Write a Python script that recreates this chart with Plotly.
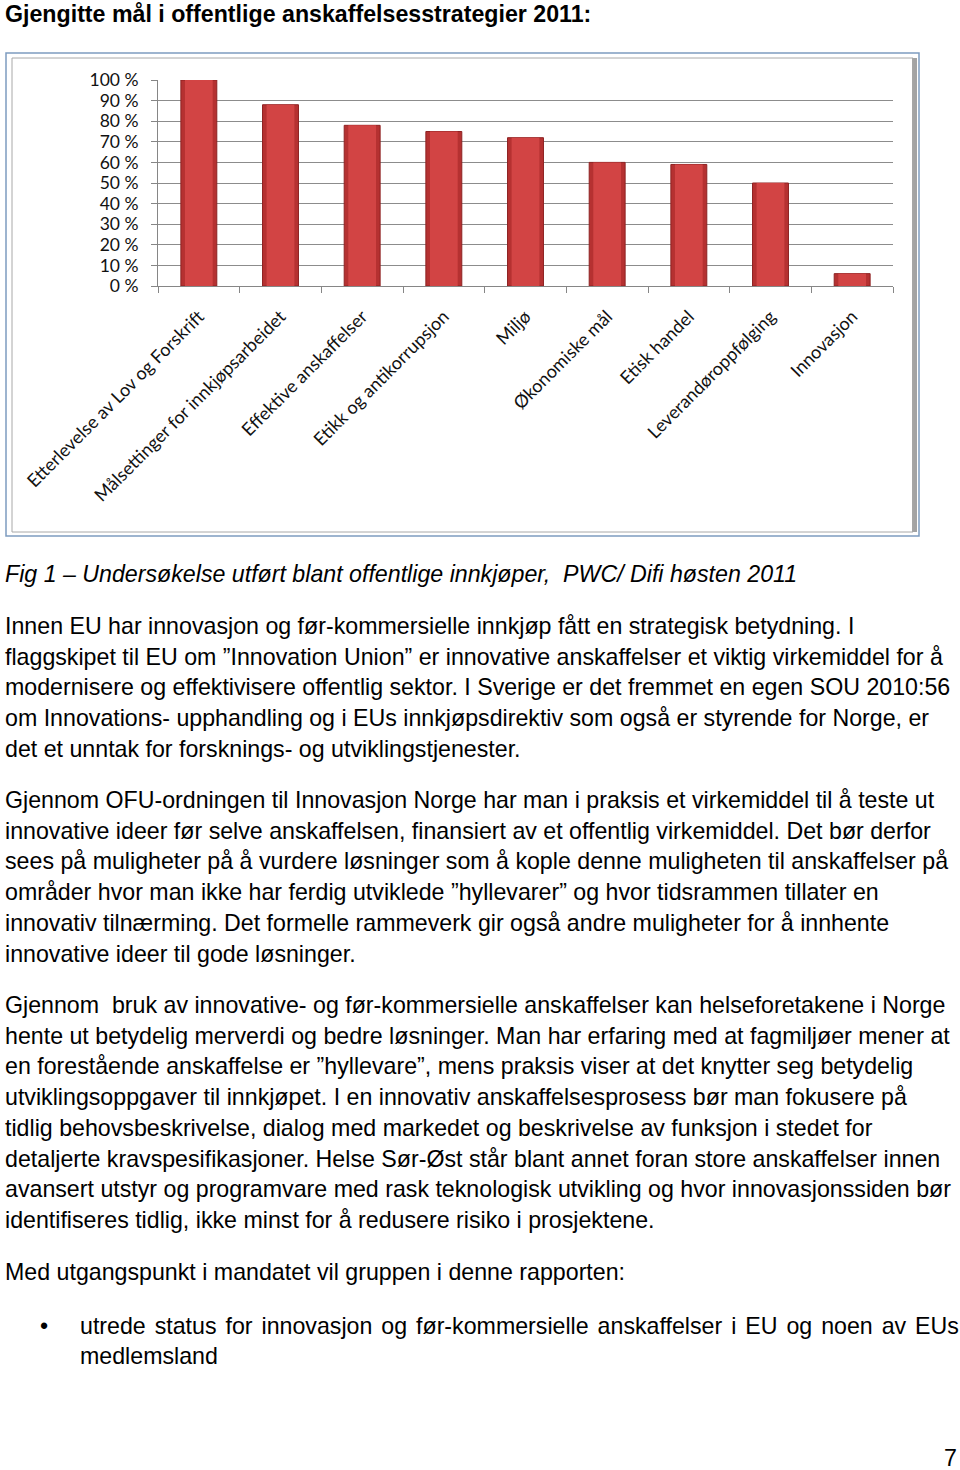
import plotly.graph_objects as go

# ---- data ----
categories = [
    "Etterlevelse av Lov og Forskrift",
    "Målsettinger for innkjøpsarbeidet",
    "Effektive anskaffelser",
    "Etikk og antikorrupsjon",
    "Miljø",
    "Økonomiske mål",
    "Etisk handel",
    "Leverandøroppfølging",
    "Innovasjon",
]
values = [100, 88, 78, 75, 72, 60, 59, 50, 6]
y_ticks = [0, 10, 20, 30, 40, 50, 60, 70, 80, 90, 100]
y_tick_labels = ["0 %", "10 %", "20 %", "30 %", "40 %", "50 %",
                 "60 %", "70 %", "80 %", "90 %", "100 %"]

W, H = 960, 1470

def py(p):
    return 1 - p / H

def px(p):
    return p / W

CHART_FONT = "Lato, Carlito, Calibri, sans-serif"

fig = go.Figure()
fig.add_trace(go.Bar(
    x=categories, y=values,
    marker=dict(color="#b53131", line=dict(color="#8e2222", width=1)),
    width=0.44, hoverinfo="x+y",
))
fig.add_trace(go.Bar(
    x=categories, y=values,
    marker=dict(color="#d24444", line=dict(width=0)),
    width=0.34, hoverinfo="skip",
))

fig.update_layout(
    width=W, height=H,
    margin=dict(l=0, r=0, t=0, b=0, autoexpand=False),
    paper_bgcolor="white", plot_bgcolor="white",
    showlegend=False,
    barmode="overlay",
    xaxis=dict(
        domain=[px(158), px(893)],
        anchor="y",
        type="category",
        automargin=False,
        tickangle=-45,
        tickfont=dict(family=CHART_FONT, size=18, color="#111111"),
        ticklabelstandoff=12,
        showline=True, linecolor="#868686", linewidth=1,
        ticks="outside", tickson="boundaries", ticklen=6, tickcolor="#868686",
        showgrid=False,
    ),
    yaxis=dict(
        domain=[py(286), py(80)],
        range=[0, 100],
        automargin=False,
        tickmode="array",
        tickvals=y_ticks,
        ticktext=y_tick_labels,
        tickfont=dict(family=CHART_FONT, size=17.5, color="#111111"),
        ticklabelstandoff=9,
        showline=True, linecolor="#868686", linewidth=1,
        ticks="outside", ticklen=6, tickcolor="#868686",
        showgrid=True, gridcolor="#8c8c8c", gridwidth=1,
        zeroline=False,
    ),
)

# chart frame
fig.add_shape(type="rect", xref="paper", yref="paper",
              x0=px(6), x1=px(919), y0=py(536), y1=py(53),
              line=dict(color="#7d9cc0", width=1.5), fillcolor="rgba(0,0,0,0)", layer="below")
fig.add_shape(type="rect", xref="paper", yref="paper",
              x0=px(912), x1=px(917), y0=py(532), y1=py(58),
              line=dict(width=0), fillcolor="#a3a3a3", layer="below")
fig.add_shape(type="rect", xref="paper", yref="paper",
              x0=px(12), x1=px(913), y0=py(532), y1=py(58),
              line=dict(color="#a8a8a8", width=1), fillcolor="rgba(0,0,0,0)", layer="below")

BODY = "Liberation Sans, Arial, Helvetica, sans-serif"
FS = 23.2
LX = 3

def txt(x, y, s, size=FS, bold=False, italic=False, anchor="left"):
    if bold:
        s = "<b>" + s + "</b>"
    if italic:
        s = "<i>" + s + "</i>"
    fig.add_annotation(x=px(x), y=py(y), xref="paper", yref="paper",
                       text=s, showarrow=False, xanchor=anchor, yanchor="middle",
                       align="left", font=dict(family=BODY, size=size, color="#000000"))

txt(LX, 14, "Gjengitte mål i offentlige anskaffelsesstrategier 2011:", bold=True)
txt(LX, 574, "Fig 1 – Undersøkelse utført blant offentlige innkjøper,  PWC/ Difi høsten 2011", italic=True)

para1 = [
    "Innen EU har innovasjon og før-kommersielle innkjøp fått en strategisk betydning. I",
    "flaggskipet til EU om ”Innovation Union” er innovative anskaffelser et viktig virkemiddel for å",
    "modernisere og effektivisere offentlig sektor. I Sverige er det fremmet en egen SOU 2010:56",
    "om Innovations- upphandling og i EUs innkjøpsdirektiv som også er styrende for Norge, er",
    "det et unntak for forsknings- og utviklingstjenester.",
]
para2 = [
    "Gjennom OFU-ordningen til Innovasjon Norge har man i praksis et virkemiddel til å teste ut",
    "innovative ideer før selve anskaffelsen, finansiert av et offentlig virkemiddel. Det bør derfor",
    "sees på muligheter på å vurdere løsninger som å kople denne muligheten til anskaffelser på",
    "områder hvor man ikke har ferdig utviklede ”hyllevarer” og hvor tidsrammen tillater en",
    "innovativ tilnærming. Det formelle rammeverk gir også andre muligheter for å innhente",
    "innovative ideer til gode løsninger.",
]
para3 = [
    "Gjennom  bruk av innovative- og før-kommersielle anskaffelser kan helseforetakene i Norge",
    "hente ut betydelig merverdi og bedre løsninger. Man har erfaring med at fagmiljøer mener at",
    "en forestående anskaffelse er ”hyllevare”, mens praksis viser at det knytter seg betydelig",
    "utviklingsoppgaver til innkjøpet. I en innovativ anskaffelsesprosess bør man fokusere på",
    "tidlig behovsbeskrivelse, dialog med markedet og beskrivelse av funksjon i stedet for",
    "detaljerte kravspesifikasjoner. Helse Sør-Øst står blant annet foran store anskaffelser innen",
    "avansert utstyr og programvare med rask teknologisk utvikling og hvor innovasjonssiden bør",
    "identifiseres tidlig, ikke minst for å redusere risiko i prosjektene.",
]
LS = 30.7
for start, lines in [(626, para1), (800, para2), (1005, para3)]:
    for i, line in enumerate(lines):
        txt(LX, start + i * LS, line)

txt(LX, 1272, "Med utgangspunkt i mandatet vil gruppen i denne rapporten:")
txt(38, 1326, "•")
txt(78, 1326, '<span style="word-spacing:2.5px">utrede status for innovasjon og før-kommersielle '
              'anskaffelser i EU og noen av EUs</span>')
txt(78, 1356, "medlemsland")
txt(959, 1458, "7", anchor="right")

fig.write_html(
    "out.html",
    config={"displayModeBar": False},
    post_script="document.body.style.margin='0px';"
                "document.documentElement.style.overflow='hidden';",
)
